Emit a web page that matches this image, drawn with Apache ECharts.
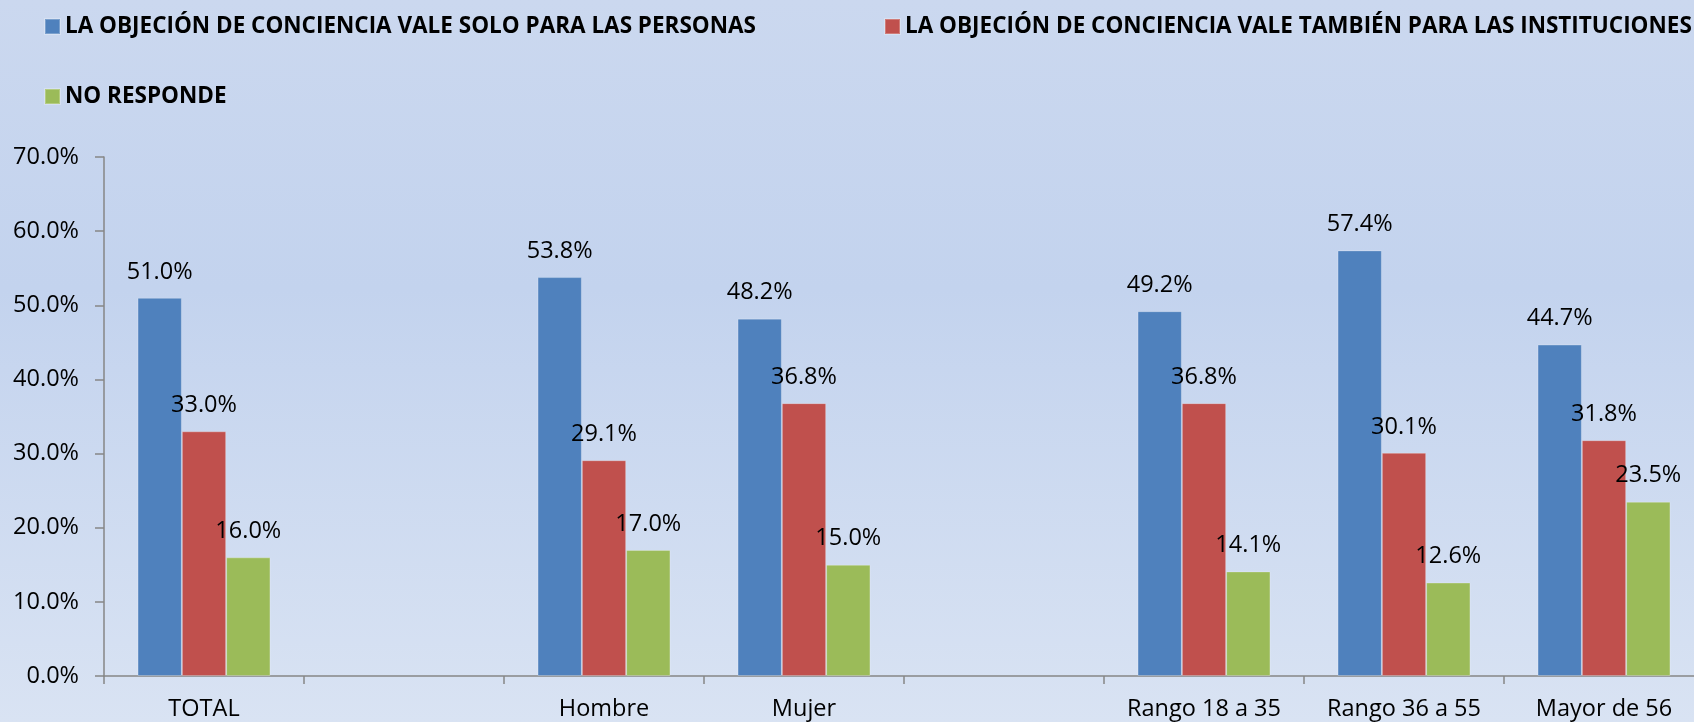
<!DOCTYPE html>
<html>
<head>
<meta charset="utf-8">
<script src="https://cdn.jsdelivr.net/npm/echarts@6/dist/echarts.min.js"></script>
<style>
  html, body { margin: 0; padding: 0; }
  #echarts { width: 1694px; height: 722px; }
</style>
</head>
<body>
<div id="echarts"></div>
<script>
var categories = ['TOTAL', '', 'Hombre', 'Mujer', '', 'Rango 18 a 35', 'Rango 36 a 55', 'Mayor de 56'];
var seriesNames = [
    'LA OBJECIÓN DE CONCIENCIA VALE SOLO PARA LAS PERSONAS',
    'LA OBJECIÓN DE CONCIENCIA VALE TAMBIÉN PARA LAS INSTITUCIONES',
    'NO RESPONDE'
];
var soloPersonas = [51.0, null, 53.8, 48.2, null, 49.2, 57.4, 44.7];
var tambienInstituciones = [33.0, null, 29.1, 36.8, null, 36.8, 30.1, 31.8];
var noResponde = [16.0, null, 17.0, 15.0, null, 14.1, 12.6, 23.5];
var yTicks = [0, 10, 20, 30, 40, 50, 60, 70];

window.onload = function () {
    var colors = ['#4F81BD', '#C0504D', '#9BBB59'];
    var font = 'Open Sans';

    function barSeries(i, data) {
        return {
            name: seriesNames[i],
            type: 'bar',
            data: data,
            barWidth: 44.3,
            barGap: '0%',
            itemStyle: { color: colors[i], borderColor: 'rgba(255,255,255,0.25)', borderWidth: 1 },
            label: {
                show: true,
                position: 'top',
                distance: 14,
                color: '#000',
                fontFamily: font,
                fontSize: 23.5,
                formatter: function (p) { return p.value == null ? '' : p.value.toFixed(1) + '%'; }
            }
        };
    }

    function legend(i, left, top) {
        return {
            data: [seriesNames[i]],
            left: left,
            top: top,
            padding: 0,
            icon: 'rect',
            itemWidth: 15,
            itemHeight: 15,
            selectedMode: false,
            textStyle: { color: '#000', fontFamily: font, fontWeight: 'bold', fontSize: 22.5 }
        };
    }

    var option = {
        backgroundColor: {
            type: 'linear', x: 0, y: 0, x2: 0, y2: 1,
            colorStops: [
                { offset: 0, color: '#cbd8ef' },
                { offset: 0.4, color: '#c3d3ee' },
                { offset: 1, color: '#d9e3f3' }
            ]
        },
        animation: false,
        color: colors,
        legend: [
            legend(0, 44, 15),
            legend(1, 884, 15),
            legend(2, 44, 85)
        ],
        grid: { left: 104, top: 157, width: 1600, height: 519, outerBoundsMode: 'none', containLabel: false },
        xAxis: {
            type: 'category',
            data: categories,
            axisLine: { lineStyle: { color: '#868686', width: 1.5 } },
            axisTick: { show: true, interval: 0, length: 8, lineStyle: { color: '#868686', width: 1.5 } },
            axisLabel: { interval: 0, hideOverlap: false, color: '#000', fontFamily: font, fontSize: 23.5, margin: 21 }
        },
        yAxis: {
            type: 'value',
            min: yTicks[0],
            max: yTicks[yTicks.length - 1],
            interval: 10,
            axisLine: { show: true, lineStyle: { color: '#868686', width: 1.5 } },
            axisTick: { show: true, length: 9, lineStyle: { color: '#868686', width: 1.5 } },
            splitLine: { show: false },
            axisLabel: {
                color: '#000', fontFamily: font, fontSize: 23.5, margin: 25,
                formatter: function (v) { return v.toFixed(1) + '%'; }
            }
        },
        series: [
            barSeries(0, soloPersonas),
            barSeries(1, tambienInstituciones),
            barSeries(2, noResponde)
        ]
    };

    var mychart = echarts.init(document.getElementById('echarts'));
    mychart.setOption(option);
};
</script>
</body>
</html>
